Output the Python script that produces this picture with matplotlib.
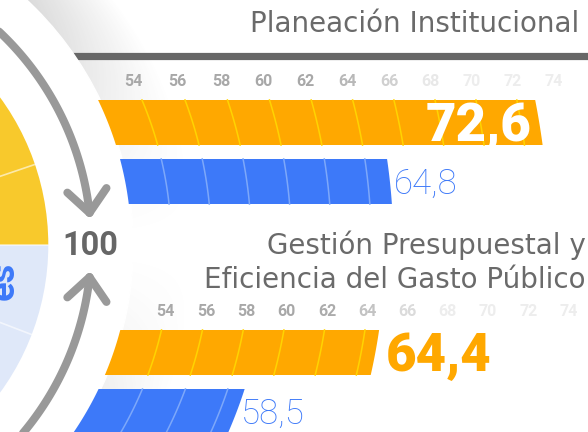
import numpy as np
import matplotlib
matplotlib.use("Agg")
import matplotlib.pyplot as plt
from matplotlib.patches import Circle, Wedge, Polygon

# --- data ---
titles = ["Planeación Institucional",
          "Gestión Presupuestal y\nEficiencia del Gasto Público"]
orange_vals = [72.6, 64.4]
blue_vals = [64.8, 58.5]
ticks = [54, 56, 58, 60, 62, 64, 66, 68, 70, 72, 74]
centre_label = "100"
pie_edges = [18.8, 0.0, -21.0]   # degrees of the segment dividers seen in the crop

ORANGE = "#FFA800"
ORANGE_GRID = "#FFD400"
BLUE = "#3D79F9"
BLUE_GRID = "#7DA8FA"
GREY = "#6a6a6a"
NUM_FONT = ["Roboto", "DejaVu Sans"]

# radial scale: circle centred off the left edge of the picture
cx, cy = -201.7, 245.0
V0, R0, PX = 54, 373.0, 20.0
BASE = 52
PAD = 0.3

def rad(v):
    return R0 + PX * (v - V0)

def arc_x(r, y):
    return cx + np.sqrt(r ** 2 - (y - cy) ** 2)

fig = plt.figure(figsize=(5.88, 4.32), dpi=100)
ax = fig.add_axes([0, 0, 1, 1])
ax.axis("off")

# soft shadow round the white disk
yy, xx = np.mgrid[0:432, 0:588] + 0.5
rr = np.hypot(xx - cx, yy - cy)
alpha = np.clip(1 - (rr - 335) / 65, 0, 1) * (rr >= 334) * (np.abs(yy - cy) / 245) ** 1.5 * 0.22
img = np.zeros((432, 588, 4))
img[..., :3] = 0.35
img[..., 3] = np.clip(alpha, 0, 1)
ax.imshow(img, extent=(0, 588, 432, 0), origin="upper", zorder=0.5, interpolation="bilinear")

# header rule of the first panel
ax.plot([0, 588], [55.5, 55.5], color="#676767", lw=5.2, zorder=1, solid_capstyle="butt")

ax.add_patch(Circle((cx, cy), 335, color="white", zorder=2))

# pie in the middle
ax.add_patch(Wedge((cx, cy), 250, 180, 360, color="#F8C92C", zorder=3, lw=0))
ax.add_patch(Wedge((cx, cy), 250, 0, 180, color="#DFE8F9", zorder=3, lw=0))
for a in pie_edges:
    t = np.radians(a)
    ax.plot([cx, cx + 250 * np.cos(t)], [cy, cy - 250 * np.sin(t)],
            color="white", lw=1.2, alpha=0.6, zorder=3.5)
ax.text(14, 262, "es", rotation=90, rotation_mode="anchor", ha="right", va="baseline",
        fontsize=26, fontweight="bold", color=BLUE, family=NUM_FONT, zorder=3.6)

# arrows towards the centre value
RA = 293

def draw_arrow(t0, t1):
    th = np.radians(np.linspace(t0, t1, 80))
    ax.plot(cx + RA * np.cos(th), cy - RA * np.sin(th), color="#999999", lw=5.8,
            solid_capstyle="round", zorder=4)
    tip = np.array([cx + RA * np.cos(th[-1]), cy - RA * np.sin(th[-1])])
    prev = np.array([cx + RA * np.cos(th[-2]), cy - RA * np.sin(th[-2])])
    back = (prev - tip) / np.linalg.norm(prev - tip)
    for s in (-1, 1):
        a = np.radians(41 * s)
        rot = np.array([[np.cos(a), -np.sin(a)], [np.sin(a), np.cos(a)]])
        end = tip + rot @ back * 30
        ax.plot([end[0], tip[0]], [end[1], tip[1]], color="#999999", lw=5.8,
                solid_capstyle="round", solid_joinstyle="round", zorder=4)

draw_arrow(62, 6.3)
draw_arrow(-62, -6.3)
ax.text(90, 246, centre_label, ha="center", va="center", fontsize=23.5, fontweight="bold",
        color="#666666", family=NUM_FONT, zorder=5)

# panels
tick_y = [82, 312]
bar_h, gap = 45, 14


def bar(top, val, color, gcolor):
    ys = np.linspace(top, top + bar_h, 40)
    right = arc_x(rad(val + PAD), ys)
    left = arc_x(rad(BASE), ys[::-1])
    pts = np.column_stack([np.concatenate([right, left]), np.concatenate([ys, ys[::-1]])])
    ax.add_patch(Polygon(pts, closed=True, color=color, lw=0, zorder=5))
    for t in ticks:
        if t < val:
            ax.plot(arc_x(rad(t), ys), ys, color=gcolor, lw=1.1, zorder=6)
    mid = top + bar_h / 2
    return arc_x(rad(val + PAD), mid), mid


for i, title in enumerate(titles):
    lines = title.split("\n")
    if len(lines) == 1:
        ax.text(579, 32, lines[0], ha="right", va="baseline", fontsize=20, color=GREY,
                family="DejaVu Sans", zorder=7)
    else:
        for k, ln in enumerate(lines):
            ax.text(586, 254 + 34 * k, ln, ha="right", va="baseline", fontsize=20, color=GREY,
                    family="DejaVu Sans", zorder=7)

    ty = tick_y[i]
    for t in ticks:
        x = arc_x(rad(t), ty)
        f = np.clip((x - 320) / 120, 0, 1)
        g = 0.66 + (0.93 - 0.66) * f
        ax.text(x, ty, str(t), ha="center", va="center", fontsize=11.5, fontweight="bold",
                color=(g, g, g), family=NUM_FONT, zorder=7)

    top_o = ty + 18
    xe, ym = bar(top_o, orange_vals[i], ORANGE, ORANGE_GRID)
    lab = f"{orange_vals[i]:.1f}".replace(".", ",")
    if orange_vals[i] > 70:
        ax.text(xe - 8, ym + 18.7, lab, ha="right", va="baseline", fontsize=38,
                fontweight="black", color="white", family=NUM_FONT, zorder=8)
    else:
        ax.text(xe + 10, ym + 18.7, lab, ha="left", va="baseline", fontsize=38,
                fontweight="black", color=ORANGE, family=NUM_FONT, zorder=8)

    top_b = top_o + bar_h + gap
    xe, ym = bar(top_b, blue_vals[i], BLUE, BLUE_GRID)
    lab = f"{blue_vals[i]:.1f}".replace(".", ",")
    ax.text(xe + 4, ym + 12.5, lab, ha="left", va="baseline", fontsize=25,
            fontweight="light", color=BLUE, family=NUM_FONT, zorder=8)

ax.set_xlim(0, 588)
ax.set_ylim(432, 0)
fig.savefig("out.png", dpi=100)
